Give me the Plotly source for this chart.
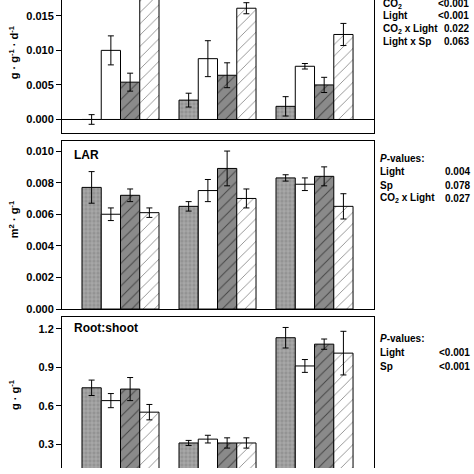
import plotly.graph_objects as go

groups = ["G1", "G2", "G3"]

# Panel 1: RGR (g g-1 d-1)
rgr_s1 = [0.0, 0.0028, 0.0019]
rgr_s1_err = [0.0007, 0.0010, 0.0014]
rgr_s2 = [0.0100, 0.0088, 0.0077]
rgr_s2_err = [0.0021, 0.0026, 0.0004]
rgr_s3 = [0.0054, 0.0064, 0.0050]
rgr_s3_err = [0.0013, 0.0018, 0.0011]
rgr_s4 = [0.0185, 0.0161, 0.0123]
rgr_s4_err = [0.0010, 0.0008, 0.0016]

# Panel 2: LAR (m2 g-1)
lar_s1 = [0.0077, 0.0065, 0.0083]
lar_s1_err = [0.0010, 0.0003, 0.0002]
lar_s2 = [0.0060, 0.0075, 0.0079]
lar_s2_err = [0.0004, 0.0007, 0.0004]
lar_s3 = [0.0072, 0.0089, 0.0084]
lar_s3_err = [0.0004, 0.0011, 0.0006]
lar_s4 = [0.0061, 0.0070, 0.0065]
lar_s4_err = [0.0003, 0.0006, 0.0008]

# Panel 3: Root:shoot (g g-1)
rs_s1 = [0.74, 0.31, 1.13]
rs_s1_err = [0.06, 0.02, 0.08]
rs_s2 = [0.64, 0.34, 0.91]
rs_s2_err = [0.055, 0.03, 0.05]
rs_s3 = [0.73, 0.31, 1.08]
rs_s3_err = [0.09, 0.04, 0.04]
rs_s4 = [0.55, 0.31, 1.01]
rs_s4_err = [0.06, 0.04, 0.17]

p1_labels = ["CO<sub>2</sub>", "Light", "CO<sub>2</sub> x Light", "Light x Sp"]
p1_values = ["<0.001", "<0.001", "0.022", "0.063"]
p2_labels = ["Light", "Sp", "CO<sub>2</sub> x Light"]
p2_values = ["0.004", "0.078", "0.027"]
p3_labels = ["Light", "Sp"]
p3_values = ["<0.001", "<0.001"]

W, H = 474, 474
ML, MR = 62, 100
PW = W - ML - MR

styles = [
    dict(color="#939393", pattern=dict(shape="+", fgcolor="#dcdcdc", size=4, solidity=0.3, fillmode="overlay")),
    dict(color="white"),
    dict(color="#8a8a8a", pattern=dict(shape="/", fgcolor="black", size=8, solidity=0.12, fillmode="overlay")),
    dict(color="white", pattern=dict(shape="/", fgcolor="black", size=8, solidity=0.1, fillmode="overlay")),
]

fig = go.Figure()

panels = [
    ([rgr_s1, rgr_s2, rgr_s3, rgr_s4], [rgr_s1_err, rgr_s2_err, rgr_s3_err, rgr_s4_err], "x", "y"),
    ([lar_s1, lar_s2, lar_s3, lar_s4], [lar_s1_err, lar_s2_err, lar_s3_err, lar_s4_err], "x2", "y2"),
    ([rs_s1, rs_s2, rs_s3, rs_s4], [rs_s1_err, rs_s2_err, rs_s3_err, rs_s4_err], "x3", "y3"),
]

for vals, errs, xa, ya in panels:
    for i in range(4):
        fig.add_trace(go.Bar(
            x=groups, y=vals[i], xaxis=xa, yaxis=ya,
            marker=dict(**styles[i], line=dict(color="black", width=1)),
            error_y=dict(type="data", array=errs[i], color="black", thickness=1, width=3),
            showlegend=False, offsetgroup=str(i), hoverinfo="skip",
        ))

def dom(top_px, bot_px):
    return [1 - bot_px / H, 1 - top_px / H]

xr = [-0.603, 2.613]
tickfont = dict(family="Liberation Sans, Arial", size=11, color="black", weight="bold")
xcommon = dict(range=xr, showticklabels=False, ticks="", showgrid=False, zeroline=False,
               domain=[0, 1], fixedrange=True)
ycommon = dict(showgrid=False, ticks="outside", ticklen=5, tickwidth=1, tickcolor="black",
               tickfont=tickfont, showline=True, linecolor="black", linewidth=1, mirror=True,
               fixedrange=True)

fig.update_layout(
    width=W, height=H,
    margin=dict(l=ML, r=MR, t=0, b=0),
    paper_bgcolor="white", plot_bgcolor="white",
    barmode="group", bargap=0.206, bargroupgap=0,
    xaxis=dict(**xcommon, anchor="y", showline=True, linecolor="black", linewidth=1, mirror=False),
    yaxis=dict(**ycommon, domain=dom(0, 135), range=[-0.002, 0.01729],
               tickvals=[0, 0.005, 0.010, 0.015], ticktext=["0.000", "0.005", "0.010", "0.015"],
               zeroline=True, zerolinecolor="black", zerolinewidth=1, anchor="x"),
    xaxis2=dict(**xcommon, anchor="y2", showline=True, linecolor="black", linewidth=1, mirror=True),
    yaxis2=dict(**ycommon, domain=dom(143, 313), range=[0, 0.010625],
                tickvals=[0, 0.002, 0.004, 0.006, 0.008, 0.010],
                ticktext=["0.000", "0.002", "0.004", "0.006", "0.008", "0.010"],
                zeroline=False, anchor="x2"),
    xaxis3=dict(**xcommon, anchor="y3", side="top", showline=True, linecolor="black", linewidth=1, mirror=False),
    yaxis3=dict(**ycommon, domain=dom(321, 474), range=[0.115, 1.292],
                tickvals=[0.3, 0.6, 0.9, 1.2], ticktext=["0.3", "0.6", "0.9", "1.2"],
                zeroline=False, anchor="x3"),
)

def px_x(p):
    return (p - ML) / PW

def px_y(p):
    return 1 - p / H

ann = []
lblfont = dict(family="Liberation Sans, Arial", size=10, color="black", weight="bold")
# y-axis titles
ytitles = [("g · g<sup>-1</sup> · d<sup>-1</sup>", 53), ("m<sup>2</sup> · g<sup>-1</sup>", 222), ("g · g<sup>-1</sup>", 400)]
for t, yc in ytitles:
    ann.append(dict(text=t, x=px_x(14), y=px_y(yc), xref="paper", yref="paper",
                    textangle=-90, showarrow=False, xanchor="center", yanchor="middle",
                    font=dict(family="Liberation Sans, Arial", size=11, color="black", weight="bold")))
# panel labels
ann.append(dict(text="LAR", x=px_x(72), y=px_y(157), xref="paper", yref="paper", showarrow=False,
                xanchor="left", yanchor="middle",
                font=dict(family="Liberation Sans, Arial", size=12, color="black", weight="bold")))
ann.append(dict(text="Root:shoot", x=px_x(72), y=px_y(332), xref="paper", yref="paper", showarrow=False,
                xanchor="left", yanchor="middle",
                font=dict(family="Liberation Sans, Arial", size=12, color="black", weight="bold")))

# p-value tables
rows1 = [4, 16, 29, 42]
for lab, val, yy in zip(p1_labels, p1_values, rows1):
    ann.append(dict(text=lab, x=px_x(381), y=px_y(yy), xref="paper", yref="paper", showarrow=False,
                    xanchor="left", yanchor="middle", font=lblfont))
    ann.append(dict(text=val, x=px_x(471), y=px_y(yy), xref="paper", yref="paper", showarrow=False,
                    xanchor="right", yanchor="middle", font=lblfont))

ann.append(dict(text="<i>P</i>-values:", x=px_x(378), y=px_y(161), xref="paper", yref="paper",
                showarrow=False, xanchor="left", yanchor="middle", font=lblfont))
rows2 = [174, 188, 201]
for lab, val, yy in zip(p2_labels, p2_values, rows2):
    ann.append(dict(text=lab, x=px_x(378), y=px_y(yy), xref="paper", yref="paper", showarrow=False,
                    xanchor="left", yanchor="middle", font=lblfont))
    ann.append(dict(text=val, x=px_x(472), y=px_y(yy), xref="paper", yref="paper", showarrow=False,
                    xanchor="right", yanchor="middle", font=lblfont))

ann.append(dict(text="<i>P</i>-values:", x=px_x(378), y=px_y(343), xref="paper", yref="paper",
                showarrow=False, xanchor="left", yanchor="middle", font=lblfont))
rows3 = [357, 371]
for lab, val, yy in zip(p3_labels, p3_values, rows3):
    ann.append(dict(text=lab, x=px_x(378), y=px_y(yy), xref="paper", yref="paper", showarrow=False,
                    xanchor="left", yanchor="middle", font=lblfont))
    ann.append(dict(text=val, x=px_x(472), y=px_y(yy), xref="paper", yref="paper", showarrow=False,
                    xanchor="right", yanchor="middle", font=lblfont))

fig.update_layout(annotations=ann)
fig.write_html("out.html", config={"displayModeBar": False, "staticPlot": True},
               post_script="document.body.style.margin='0';document.body.style.overflow='hidden';")
